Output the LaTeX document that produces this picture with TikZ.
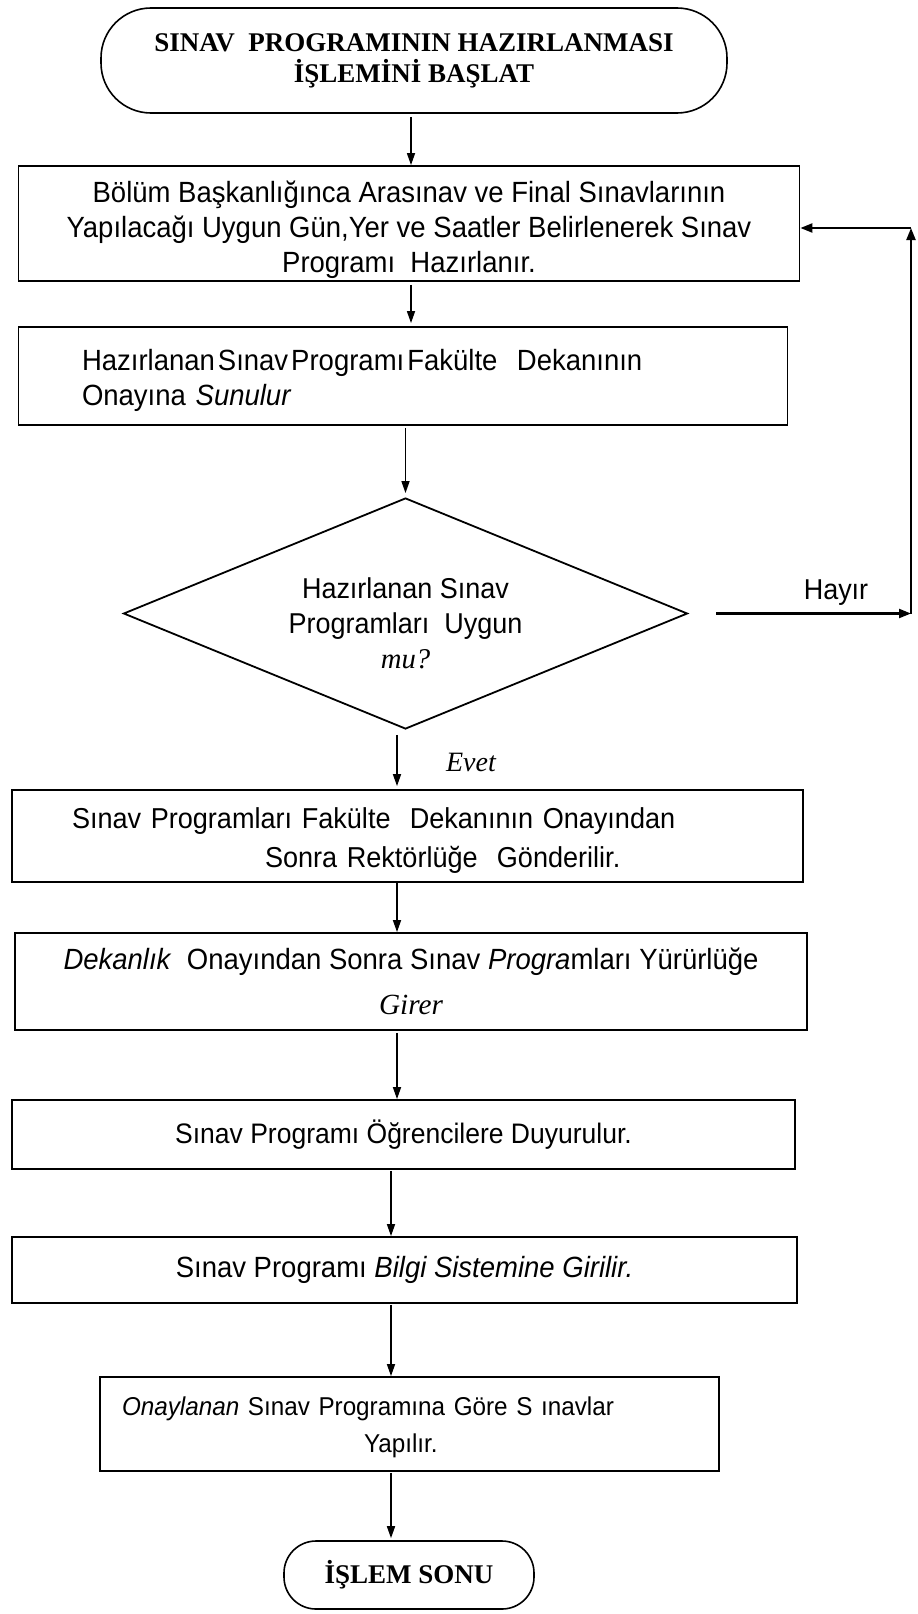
\documentclass[tikz,border=0pt]{standalone}
\usepackage{fontspec}
\setmainfont[FakeStretch=0.94]{Liberation Sans}
\newfontfamily\serifface{Liberation Serif}
\usetikzlibrary{arrows.meta,shapes.geometric}
\tikzset{
  boxnode/.style={draw, line width=1.8pt, rectangle, inner sep=0pt},
  termnode/.style={draw, line width=1.6pt, rectangle, inner sep=0pt,
    font=\serifface\bfseries\fontsize{27}{31}\selectfont},
  arr/.style={-{Triangle[length=12pt,width=8pt]}, line width=1.6pt},
  boldarr/.style={-{Triangle[length=12pt,width=9pt]}, line width=2.2pt},
  bigtxt/.style={font=\fontsize{29.25}{35}\selectfont},
  plaintxt/.style={font=\fontsize{28.2}{35}\selectfont},
  serifit/.style={font=\serifface\itshape\fontsize{28}{32}\selectfont},
}
\begin{document}
\begin{tikzpicture}[x=1pt,y=-1pt]
\path[use as bounding box] (0,0) rectangle (918,1614);

% columns for the vertical connectors
\coordinate (colA) at (411,0);
\coordinate (colB) at (397,0);
\coordinate (colC) at (391,0);

% start terminal
\node[termnode, rounded corners=50pt, minimum width=626pt, minimum height=105pt,
      align=center]
  (start) at (414,60.5) {SINAV\ \ PROGRAMININ HAZIRLANMASI\\İŞLEMİNİ BAŞLAT};

% process boxes
\node[boxnode, bigtxt, minimum width=781pt, minimum height=115pt, align=center]
  (b1) at (409,223.5)
  {\rule{0pt}{34pt}Bölüm Başkanlığınca Arasınav ve Final Sınavlarının\\
   Yapılacağı Uygun Gün,Yer ve Saatler Belirlenerek Sınav\\
   Programı\ \ Hazırlanır.};

\node[boxnode, bigtxt, minimum height=98pt, inner xsep=63.5pt,
      text width=642pt, align=left]
  (b2) at (403,376)
  {\rule{0pt}{31pt}Hazırlanan\hspace{3pt}Sınav\hspace{3pt}Programı\hspace{3pt}Fakülte\ \ Dekanının\\
   Onayına \textit{Sunulur}};

% decision
\node[draw, line width=1.8pt, diamond, inner sep=0pt, aspect=2.44,
      minimum width=564pt, minimum height=231pt, font=\fontsize{28.7}{35}\selectfont]
  (dia) at (405.5,613.5)
  {\raisebox{-13pt}[\height][\depth]{\begin{tabular}{@{}c@{}}
     Hazırlanan Sınav\\
     Programları\ \ Uygun\\
     {\serifface\itshape mu?}
   \end{tabular}}};

\node[boxnode, font=\fontsize{28.8}{35}\selectfont, minimum height=92pt, inner xsep=60pt,
      text width=671pt, align=left]
  (b3) at (407.5,836)
  {\rule{0pt}{29pt}Sınav Programları Fakülte\ \ Dekanının Onayından\\[4pt]
   \hspace*{193pt}Sonra Rektörlüğe\ \ Gönderilir.};

\node[boxnode, bigtxt, minimum width=792pt, minimum height=97pt, align=center]
  (b4) at (411,981.5)
  {\textit{Dekanlık}\ \ Onayından Sonra Sınav \textit{Progra}mları Yürürlüğe\\[10pt]
   {\serifface\itshape Girer}};

\node[boxnode, plaintxt, minimum width=783pt, minimum height=69pt]
  (b5) at (403.5,1134.5)
  {Sınav Programı Öğrencilere Duyurulur.};

\node[boxnode, bigtxt, minimum width=785pt, minimum height=66pt]
  (b6) at (404.5,1270)
  {Sınav Programı \textit{Bilgi Sistemine Girilir.}};

\node[boxnode, font=\fontsize{25.8}{37}\selectfont, minimum height=94pt, inner xsep=22pt,
      text width=575pt, align=left]
  (b7) at (409.5,1424)
  {\rule{0pt}{25pt}\textit{Onaylanan} Sınav Programına Göre S ınavlar\\
   \hspace*{242pt}Yapılır.};

% end terminal
\node[termnode, rounded corners=32pt, minimum width=250pt, minimum height=68pt]
  (end) at (409,1575) {İŞLEM SONU};

% main flow
\draw[arr, shorten <=3pt] (start.south -| colA) -- (b1.north -| colA);
\draw[arr, shorten <=3pt, shorten >=3pt] (b1.south -| colA) -- (b2.north -| colA);
\draw[arr, shorten <=2pt, shorten >=4pt] (b2.south -| dia.north) -- (dia.north);
\draw[arr, shorten <=5pt, shorten >=3pt] (dia.south -| colB) -- (b3.north -| colB);
\node[serifit] (evet) at (471,762) {Evet};
\draw[arr] (b3.south -| colB) -- (b4.north -| colB);
\draw[arr, shorten <=2pt] (b4.south -| colB) -- (b5.north -| colB);
\draw[arr, shorten <=1pt] (b5.south -| colC) -- (b6.north -| colC);
\draw[arr, shorten <=1pt] (b6.south -| colC) -- (b7.north -| colC);
\draw[arr, shorten <=1pt, shorten >=2pt] (b7.south -| colC) -- (end.north -| colC);

% return path for the "Hayır" branch
\coordinate (hs) at ([xshift=28pt]dia.east);
\coordinate (hc) at (911,613.5);
\coordinate (ht) at (911,228);
\draw[boldarr] (hs) -- (hc);
\node[font=\fontsize{28.7}{32}\selectfont] (hayir) at (836,593) {Hayır};
\draw[boldarr] (hc) -- (ht);
\draw[boldarr] (ht) -- (b1.east |- ht);
\end{tikzpicture}
\end{document}
